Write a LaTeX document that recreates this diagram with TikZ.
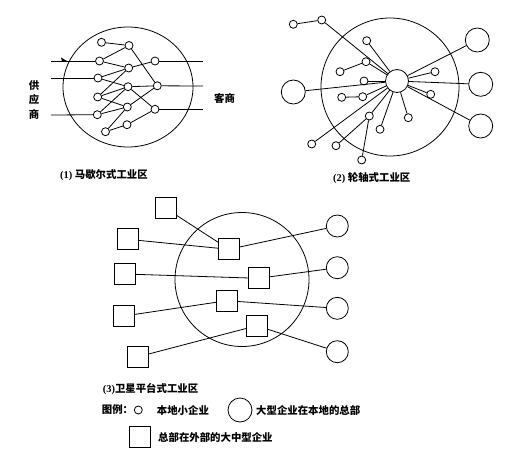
\documentclass[tikz,border=0pt]{standalone}
\usepackage{fontspec}
\setmainfont{Liberation Serif}
\newfontfamily\cjk{Noto Sans CJK SC}
\begin{document}
\begin{tikzpicture}[x=1pt,y=-1pt,
  ln/.style={line width=0.8pt},
  sm/.style={circle,draw,line width=0.8pt,minimum size=8pt,inner sep=0pt,fill=white},
  bg/.style={circle,draw,line width=0.8pt,minimum size=24pt,inner sep=0pt,fill=white},
  sq/.style={rectangle,draw,line width=0.8pt,minimum size=21pt,inner sep=0pt,fill=white},
  lbl/.style={inner sep=0pt,font=\cjk\bfseries\fontsize{10.4}{12}\selectfont}
]
\useasboundingbox (0,0) rectangle (519,453);
\fill[white] (0,0) rectangle (519,453);

% ---------- (1) Marshallian ----------
\draw[ln] (128,87) ellipse [x radius=65, y radius=60];
\coordinate (l1) at (51,61);
\coordinate (l2) at (51,78);
\coordinate (l3) at (51,115);
\coordinate (r1) at (203,61);
\coordinate (r2) at (203,86);
\coordinate (r3) at (203,109.3);
\node[sm] (n1) at (101.5,42.3) {};
\node[sm] (n2) at (129,45.5) {};
\node[sm] (n3) at (99.5,61) {};
\node[sm] (n4) at (128.7,68) {};
\node[sm] (n5) at (155,61) {};
\node[sm] (n6) at (98,78) {};
\node[sm] (n7) at (128,86.7) {};
\node[sm] (n8) at (157.3,85.8) {};
\node[sm] (n9) at (97.7,97) {};
\node[sm] (n10) at (127.3,107) {};
\node[sm] (n11) at (155,109.3) {};
\node[sm] (n12) at (97.3,114.7) {};
\node[sm] (n13) at (127,124.7) {};
\node[sm] (n14) at (105.5,131.7) {};
\draw[ln] (l1) -- (n3);
\draw[ln] (l2) -- (n6);
\draw[ln] (l3) -- (n12);
\draw[ln] (n5) -- (r1);
\draw[ln] (n8) -- (r2);
\draw[ln] (n11) -- (r3);
\draw[ln] (n1) -- (n2);
\draw[ln] (n2) -- (n3);
\draw[ln] (n2) -- (n8);
\draw[ln] (n3) -- (n4);
\draw[ln] (n4) -- (n5);
\draw[ln] (n6) -- (n4);
\draw[ln] (n6) -- (n7);
\draw[ln] (n9) -- (n4);
\draw[ln] (n9) -- (n7);
\draw[ln] (n9) -- (n10);
\draw[ln] (n12) -- (n7);
\draw[ln] (n12) -- (n10);
\draw[ln] (n7) -- (n8);
\draw[ln] (n7) -- (n11);
\draw[ln] (n10) -- (n8);
\draw[ln] (n14) -- (n10);
\draw[ln] (n14) -- (n13);
\draw[ln] (n13) -- (n11);
\fill (67,61) -- (61,57.5) -- (62,61.5) -- cycle;
\node[lbl,align=center] (sup) at (34,100) {供\\[2.5pt]应\\[2.5pt]商};
\node[lbl,anchor=west] (cus) at (214,98) {客商};
\node[lbl,anchor=west] (cap1) at (60,175) {\rmfamily\bfseries(1)\ \cjk\bfseries 马歇尔式工业区};

% ---------- (2) Hub-and-spoke ----------
\draw[ln] (390,87) circle [radius=69];
\node[sm] (a1) at (293.3,24.3) {};
\node[sm] (a2) at (321.7,20) {};
\node[sm] (a3) at (366.7,40.7) {};
\node[sm] (a4) at (366,61.7) {};
\node[sm] (a5) at (340,71.7) {};
\node[sm] (a6) at (364,81) {};
\node[sm] (a7) at (341.7,97.3) {};
\node[sm] (a8) at (362.7,96.7) {};
\node[sm] (a9) at (435,71.7) {};
\node[sm] (a10) at (430.7,94.3) {};
\node[sm] (a11) at (369.3,116) {};
\node[sm] (a12) at (380,129.3) {};
\node[sm] (a13) at (408.3,117.7) {};
\node[sm] (a14) at (311.7,144) {};
\node[sm] (a15) at (336,145.7) {};
\node[sm] (a16) at (361.7,160) {};
\node[bg] (L) at (293.3,92) {};
\node[bg] (R1) at (477.3,40) {};
\node[bg] (R2) at (480.7,84.3) {};
\node[bg] (R3) at (480.7,126) {};
\node[bg,minimum size=23pt] (hub) at (397,81) {};
\foreach \t in {a2,a3,a4,a6,a8,a9,a10,a11,a12,a13,a14,L,R1,R2,R3}
  \draw[ln] (hub) -- (\t);
\draw[ln] (a1) -- (a2);
\draw[ln] (a5) -- (a4);
\draw[ln] (a7) -- (a8);
\draw[ln] (a11) -- (a15);
\draw[ln] (a11) -- (a16);
\node[lbl,anchor=west] (cap2) at (333,178) {\rmfamily\bfseries(2)\ \cjk\bfseries 轮轴式工业区};

% ---------- (3) Satellite platform ----------
\draw[ln] (242,279.5) circle [radius=67];
\node[sq] (s1) at (165.7,208.3) {};
\node[sq] (s2) at (127.7,239.3) {};
\node[sq] (s3) at (125,274) {};
\node[sq] (s4) at (124,316) {};
\node[sq] (s5) at (138.3,356.7) {};
\node[sq] (i1) at (229,249.3) {};
\node[sq] (i2) at (258.7,278.3) {};
\node[sq] (i3) at (226.7,300.7) {};
\node[sq] (i4) at (256.7,325.7) {};
\node[bg,minimum size=22pt] (c1) at (337.3,226) {};
\node[bg,minimum size=22pt] (c2) at (337.3,267.7) {};
\node[bg,minimum size=22pt] (c3) at (337.3,308.3) {};
\node[bg,minimum size=22pt] (c4) at (337.3,351.7) {};
\draw[ln] (s1) -- (i1);
\draw[ln] (s2) -- (i1);
\draw[ln] (i1) -- (c1);
\draw[ln] (s3) -- (i2);
\draw[ln] (i2) -- (c2);
\draw[ln] (s4) -- (i3);
\draw[ln] (i3) -- (c3);
\draw[ln] (s5) -- (i4);
\draw[ln] (i4) -- (c4);
\node[lbl,anchor=west] (cap3) at (102.7,389.3) {\rmfamily\bfseries(3)\cjk\bfseries 卫星平台式工业区};

% ---------- legend ----------
\node[lbl,anchor=west] (leg) at (101.7,410) {图例：};
\node[sm] (lg1) at (138.3,410) {};
\node[lbl,anchor=west] (lt1) at (156.7,410) {本地小企业};
\node[bg] (lg2) at (240,410) {};
\node[lbl,anchor=west] (lt2) at (256,410) {大型企业在本地的总部};
\node[sq] (lg3) at (140,437.3) {};
\node[lbl,anchor=west] (lt3) at (158,437) {总部在外部的大中型企业};
\end{tikzpicture}
\end{document}
